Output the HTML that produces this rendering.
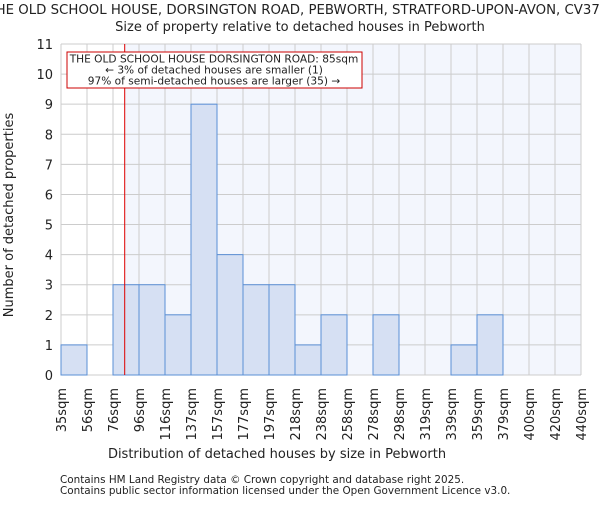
<!DOCTYPE html>
<html><head><meta charset="utf-8"><style>
body{margin:0;background:#fff}
svg text{font-family:"DejaVu Sans","Liberation Sans",sans-serif;fill:#222}
</style></head><body>
<svg id="chart" width="600" height="500">
<text x="300" y="14" text-anchor="middle" font-size="13.3">THE OLD SCHOOL HOUSE, DORSINGTON ROAD, PEBWORTH, STRATFORD-UPON-AVON, CV37 8</text>
<text x="300" y="31" text-anchor="middle" font-size="13">Size of property relative to detached houses in Pebworth</text>
<g id="plot"></g>
<text x="277" y="458" text-anchor="middle" font-size="13">Distribution of detached houses by size in Pebworth</text>
<text transform="translate(13,215) rotate(-90)" text-anchor="middle" font-size="13">Number of detached properties</text>
<text x="60" y="483" font-size="10.4">Contains HM Land Registry data © Crown copyright and database right 2025.</text>
<text x="60" y="494" font-size="10.4">Contains public sector information licensed under the Open Government Licence v3.0.</text>
</svg>
<script>
const categories=["35sqm","56sqm","76sqm","96sqm","116sqm","137sqm","157sqm","177sqm","197sqm","218sqm","238sqm","258sqm","278sqm","298sqm","319sqm","339sqm","359sqm","379sqm","400sqm","420sqm","440sqm"];
const counts=[1,0,3,3,2,9,4,3,3,1,2,0,2,0,0,1,2,0,0,0];
const yTicks=[0,1,2,3,4,5,6,7,8,9,10,11];
const markerValue=85;
const binStarts=[35,56,76,96,116,137,157,177,197,218,238,258,278,298,319,339,359,379,400,420,440];
const NS="http://www.w3.org/2000/svg";
const g=document.getElementById('plot');
const X0=61,X1=581,Y0=375,Y1=44,ymax=11;
const bw=(X1-X0)/counts.length;
const xb=i=>X0+i*bw;
const y=v=>Y0-(Y0-Y1)*v/ymax;
function mk(t,a){const e=document.createElementNS(NS,t);for(const k in a)e.setAttribute(k,a[k]);g.appendChild(e);return e;}
let mi=0;for(let i=0;i<binStarts.length-1;i++){if(markerValue>=binStarts[i]&&markerValue<binStarts[i+1])mi=i;}
const mx=xb(mi)+bw*(markerValue-binStarts[mi])/(binStarts[mi+1]-binStarts[mi]);
let bg=mk('rect',{x:mx,y:Y1,width:X1-mx,height:Y0-Y1,fill:'#f3f6fd'});


for(let i=0;i<=counts.length;i++){const l=mk('line',{x1:xb(i),x2:xb(i),y1:Y1,y2:Y0,stroke:'#ccc','stroke-width':1});

}
yTicks.forEach(v=>{const l=mk('line',{x1:X0,x2:X1,y1:y(v),y2:y(v),stroke:'#ccc','stroke-width':1});


const t=mk('text',{x:X0-8,y:y(v)+5,'text-anchor':'end','font-size':13});t.textContent=v;

});
counts.forEach((c,i)=>{if(!c)return;const r=mk('rect',{x:xb(i),y:y(c),width:bw,height:Y0-y(c),fill:'#d6e0f3',stroke:'#5a8fd6','stroke-width':1});

});
categories.forEach((c,i)=>{const t=mk('text',{transform:`translate(${xb(i)+5},388) rotate(-90)`,'text-anchor':'end','font-size':13});t.textContent=c;

});
const ml=mk('line',{x1:mx,x2:mx,y1:Y1,y2:Y0,stroke:'#d00','stroke-width':1});


const box=mk('rect',{x:67,y:52,width:295,height:36,fill:'#fff',stroke:'#c00','stroke-width':1});


["THE OLD SCHOOL HOUSE DORSINGTON ROAD: 85sqm","← 3% of detached houses are smaller (1)","97% of semi-detached houses are larger (35) →"].forEach((s,i)=>{const t=mk('text',{x:214,y:62.5+i*11,'text-anchor':'middle','font-size':10.6});t.textContent=s;

});
</script>
</body></html>
